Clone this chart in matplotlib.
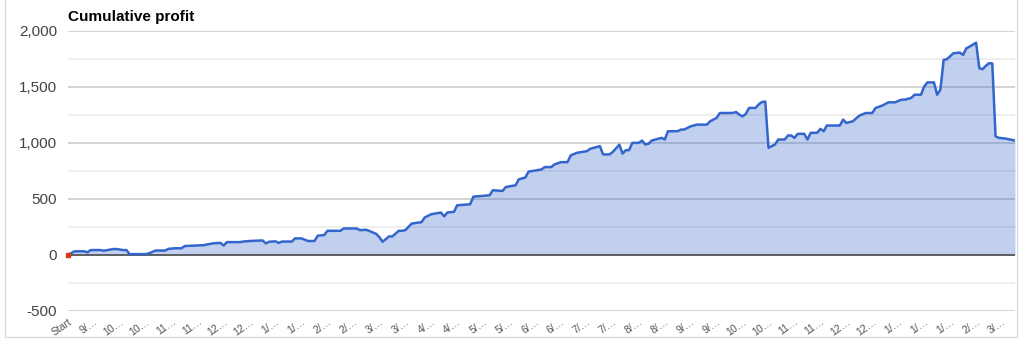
import matplotlib
matplotlib.use('Agg')
import matplotlib.pyplot as plt
from matplotlib.patches import Rectangle
import numpy as np

plt.rcParams['font.family'] = ['Liberation Sans', 'DejaVu Sans']

# trade number vs cumulative profit
trade = [0, 2, 5, 6, 7, 10, 11, 14, 15, 17, 18, 19, 24, 25, 27, 30, 31, 33, 35, 36,
         42, 43, 45, 47, 48, 49, 53, 54, 56, 60, 61, 62, 64, 65, 66, 69, 70, 72, 73, 74,
         76, 77, 79, 80, 84, 85, 89, 90, 92, 94, 95, 96, 97, 99, 100, 102, 103, 104, 106, 109,
         110, 112, 115, 116, 117, 119, 120, 124, 125, 130, 131, 134, 135, 138, 139, 141, 142, 146, 147, 149,
         150, 152, 154, 155, 157, 160, 161, 164, 165, 167, 168, 170, 171, 172, 173, 174, 176, 177, 178, 179,
         180, 183, 184, 185, 188, 189, 190, 192, 194, 197, 198, 200, 201, 205, 206, 207, 208, 209, 210, 212,
         213, 214, 215, 216, 218, 219, 221, 222, 223, 224, 225, 227, 228, 229, 231, 232, 233, 234, 238, 239,
         240, 242, 244, 246, 248, 249, 251, 253, 255, 257, 258, 260, 261, 263, 264, 265, 267, 268, 269, 270,
         271, 273, 275, 276, 277, 278, 280, 281, 282, 283, 284, 285, 286, 287, 289, 292]
profit = [0, 33, 33, 24, 44, 44, 38, 53, 53, 44, 44, 8, 8, 15, 40, 40, 55, 60, 60, 80,
          88, 95, 105, 108, 85, 115, 115, 120, 125, 130, 104, 118, 122, 108, 120, 120, 148, 148, 136, 125,
          125, 172, 178, 216, 216, 237, 237, 222, 225, 201, 189, 160, 118, 166, 166, 216, 216, 222, 281, 293,
          335, 364, 379, 345, 380, 385, 444, 453, 521, 533, 578, 572, 607, 622, 676, 691, 744, 764, 785, 785,
          809, 829, 829, 889, 913, 927, 948, 972, 898, 898, 921, 985, 905, 936, 936, 1001, 1001, 1022, 987, 993,
          1022, 1046, 1031, 1105, 1105, 1120, 1120, 1149, 1164, 1164, 1194, 1224, 1268, 1268, 1277, 1253, 1238, 1260, 1313, 1313,
          1345, 1366, 1370, 957, 987, 1031, 1031, 1067, 1067, 1046, 1082, 1082, 1031, 1091, 1091, 1126, 1105, 1156, 1156, 1209,
          1179, 1194, 1244, 1268, 1268, 1313, 1333, 1363, 1363, 1387, 1387, 1402, 1431, 1431, 1505, 1541, 1541, 1431, 1476, 1742,
          1748, 1801, 1807, 1787, 1846, 1860, 1896, 1668, 1659, 1689, 1713, 1710, 1060, 1046, 1040, 1022]

x_labels = ['Start', '9/…', '10…', '10…', '11…', '11…', '12…', '12…', '1/…', '1/…',
            '2/…', '2/…', '3/…', '3/…', '4/…', '4/…', '5/…', '5/…', '6/…', '6/…',
            '7/…', '7/…', '8/…', '8/…', '9/…', '9/…', '10…', '10…', '11…', '11…',
            '12…', '12…', '1/…', '1/…', '1/…', '2/…', '3/…']
label_step = 8
y_ticks = [-500, 0, 500, 1000, 1500, 2000]

fig = plt.figure(figsize=(10.24, 3.48), dpi=100)
ax = fig.add_axes([68/1024, 1 - 311/348, 947/1024, 280/348])

# outer frame
fig.patches.append(Rectangle((5/1024, 1 - 337/348), 1012/1024, 340/348,
                             transform=fig.transFigure, fill=False,
                             edgecolor='#d9d9d9', lw=1, zorder=0))

for y in np.arange(-500, 2001, 250):
    if y == 0:
        continue
    col = '#cccccc' if y % 500 == 0 else '#ebebeb'
    ax.axhline(y, color=col, lw=1.2, zorder=0)

ax.fill_between(trade, profit, 0, color='#3366cc', alpha=0.3, lw=0, zorder=1)
ax.plot(trade, profit, color='#3366cc', lw=1.8, zorder=3, solid_joinstyle='round')
ax.axhline(0, color='#555555', lw=1.3, zorder=2)
ax.plot([0], [0], marker='s', ms=3.5, color='#dc3912', zorder=4, clip_on=False)

ax.set_xlim(0, trade[-1])
ax.set_ylim(-500, 2000)
ax.set_yticks(y_ticks)
ax.set_yticklabels([f'{v:,}' for v in y_ticks], fontsize=11, color='#444444')
ax.set_xticks(np.arange(len(x_labels)) * label_step)
ax.set_xticklabels(x_labels, fontsize=7.5, color='#555555', rotation=35,
                   ha='right', va='top', rotation_mode='anchor')
ax.tick_params(axis='both', length=0)
ax.tick_params(axis='y', pad=8)
ax.tick_params(axis='x', pad=4)
for s in ax.spines.values():
    s.set_visible(False)

fig.text(68/1024, 1 - 17/348, 'Cumulative profit', fontsize=11, fontweight='bold',
         color='black', va='center', ha='left')

fig.savefig('out.png', dpi=100)
